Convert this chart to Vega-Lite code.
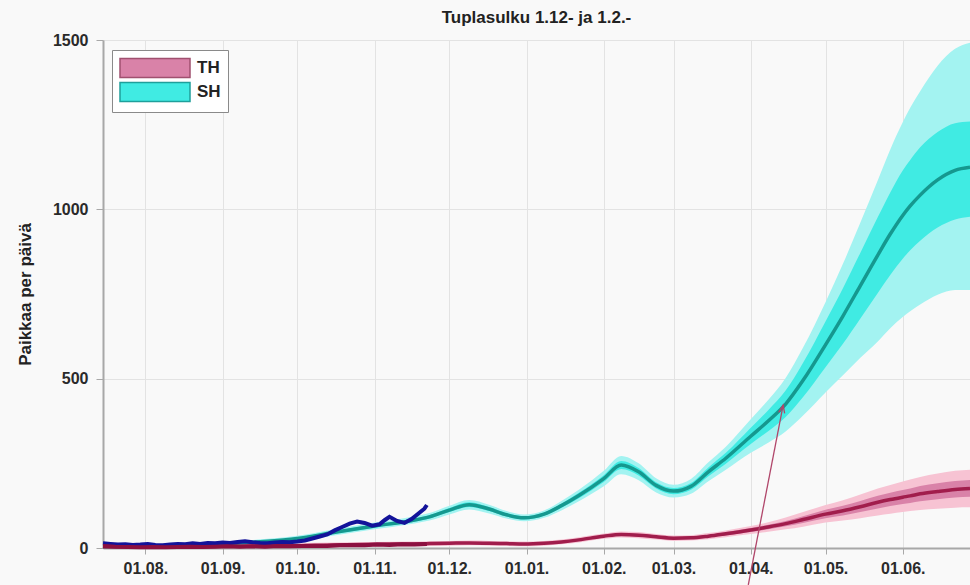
{
  "$schema": "https://vega.github.io/schema/vega-lite/v6.json",
  "width": 867,
  "height": 508,
  "autosize": {"type": "none"},
  "padding": {"left": 103, "top": 40, "right": 0, "bottom": 37},
  "background": "#f9f9f9",
  "title": {"text": "Tuplasulku 1.12- ja 1.2.-", "font": "Liberation Sans", "fontSize": 17, "fontWeight": "bold", "color": "#222", "offset": 5, "anchor": "middle"},
  "config": {
    "view": {"stroke": null},
    "axis": {"labelFont": "Liberation Sans", "labelFontSize": 15, "labelFontWeight": "bold", "labelColor": "#2a2a2a", "gridColor": "#e3e3e3", "domainColor": "#a8a8a8", "tickColor": "#a8a8a8", "titleFont": "Liberation Sans", "titleColor": "#222"}
  },
  "datasets": {
    "model": [
      {"d": "2020-07-15", "sh": 4, "s1l": 2, "s1h": 6, "s2l": 0, "s2h": 9, "th": 4, "t1l": 1, "t1h": 7, "t2l": 0, "t2h": 11},
      {"d": "2020-08-01", "sh": 5, "s1l": 3, "s1h": 7, "s2l": 1, "s2h": 10, "th": 4, "t1l": 1, "t1h": 7, "t2l": 0, "t2h": 11},
      {"d": "2020-08-15", "sh": 7, "s1l": 5, "s1h": 9, "s2l": 2, "s2h": 12, "th": 4, "t1l": 1, "t1h": 7, "t2l": 0, "t2h": 11},
      {"d": "2020-09-01", "sh": 12, "s1l": 9, "s1h": 15, "s2l": 6, "s2h": 18, "th": 5, "t1l": 2, "t1h": 8, "t2l": 0, "t2h": 12},
      {"d": "2020-09-15", "sh": 18, "s1l": 15, "s1h": 21, "s2l": 11, "s2h": 25, "th": 6, "t1l": 3, "t1h": 9, "t2l": 0, "t2h": 13},
      {"d": "2020-10-01", "sh": 28, "s1l": 24, "s1h": 32, "s2l": 20, "s2h": 36, "th": 7, "t1l": 4, "t1h": 10, "t2l": 1, "t2h": 14},
      {"d": "2020-10-15", "sh": 45, "s1l": 41, "s1h": 49, "s2l": 36, "s2h": 54, "th": 9, "t1l": 6, "t1h": 12, "t2l": 2, "t2h": 16},
      {"d": "2020-11-01", "sh": 65, "s1l": 60, "s1h": 70, "s2l": 55, "s2h": 75, "th": 11, "t1l": 8, "t1h": 14, "t2l": 4, "t2h": 18},
      {"d": "2020-11-15", "sh": 80, "s1l": 75, "s1h": 85, "s2l": 70, "s2h": 91, "th": 12, "t1l": 9, "t1h": 15, "t2l": 5, "t2h": 19},
      {"d": "2020-11-23", "sh": 92, "s1l": 87, "s1h": 97, "s2l": 81, "s2h": 103, "th": 13, "t1l": 10, "t1h": 16, "t2l": 6, "t2h": 20},
      {"d": "2020-12-01", "sh": 112, "s1l": 106, "s1h": 118, "s2l": 99, "s2h": 125, "th": 14, "t1l": 11, "t1h": 17, "t2l": 7, "t2h": 21},
      {"d": "2020-12-09", "sh": 128, "s1l": 121, "s1h": 135, "s2l": 114, "s2h": 142, "th": 15, "t1l": 12, "t1h": 18, "t2l": 8, "t2h": 22},
      {"d": "2020-12-17", "sh": 115, "s1l": 109, "s1h": 121, "s2l": 102, "s2h": 128, "th": 14, "t1l": 11, "t1h": 17, "t2l": 7, "t2h": 21},
      {"d": "2020-12-24", "sh": 98, "s1l": 93, "s1h": 103, "s2l": 87, "s2h": 109, "th": 13, "t1l": 10, "t1h": 16, "t2l": 6, "t2h": 20},
      {"d": "2020-12-31", "sh": 89, "s1l": 84, "s1h": 94, "s2l": 79, "s2h": 99, "th": 12, "t1l": 9, "t1h": 15, "t2l": 5, "t2h": 19},
      {"d": "2021-01-08", "sh": 100, "s1l": 95, "s1h": 105, "s2l": 89, "s2h": 111, "th": 14, "t1l": 11, "t1h": 17, "t2l": 7, "t2h": 21},
      {"d": "2021-01-15", "sh": 125, "s1l": 119, "s1h": 131, "s2l": 111, "s2h": 139, "th": 18, "t1l": 15, "t1h": 21, "t2l": 11, "t2h": 25},
      {"d": "2021-01-22", "sh": 155, "s1l": 147, "s1h": 163, "s2l": 138, "s2h": 172, "th": 24, "t1l": 21, "t1h": 27, "t2l": 16, "t2h": 32},
      {"d": "2021-02-01", "sh": 205, "s1l": 195, "s1h": 215, "s2l": 182, "s2h": 228, "th": 35, "t1l": 31, "t1h": 39, "t2l": 27, "t2h": 43},
      {"d": "2021-02-08", "sh": 245, "s1l": 233, "s1h": 257, "s2l": 218, "s2h": 272, "th": 40, "t1l": 36, "t1h": 44, "t2l": 31, "t2h": 49},
      {"d": "2021-02-15", "sh": 225, "s1l": 214, "s1h": 236, "s2l": 200, "s2h": 250, "th": 38, "t1l": 34, "t1h": 42, "t2l": 29, "t2h": 47},
      {"d": "2021-02-22", "sh": 185, "s1l": 176, "s1h": 194, "s2l": 164, "s2h": 206, "th": 33, "t1l": 29, "t1h": 37, "t2l": 25, "t2h": 41},
      {"d": "2021-03-01", "sh": 168, "s1l": 159, "s1h": 177, "s2l": 149, "s2h": 187, "th": 29, "t1l": 25, "t1h": 33, "t2l": 21, "t2h": 37},
      {"d": "2021-03-08", "sh": 182, "s1l": 172, "s1h": 192, "s2l": 160, "s2h": 204, "th": 30, "t1l": 26, "t1h": 34, "t2l": 22, "t2h": 38},
      {"d": "2021-03-15", "sh": 225, "s1l": 212, "s1h": 238, "s2l": 197, "s2h": 253, "th": 35, "t1l": 31, "t1h": 39, "t2l": 26, "t2h": 44},
      {"d": "2021-03-22", "sh": 265, "s1l": 249, "s1h": 281, "s2l": 231, "s2h": 299, "th": 42, "t1l": 37, "t1h": 47, "t2l": 32, "t2h": 52},
      {"d": "2021-04-01", "sh": 330, "s1l": 307, "s1h": 355, "s2l": 281, "s2h": 380, "th": 53, "t1l": 47, "t1h": 59, "t2l": 41, "t2h": 65},
      {"d": "2021-04-08", "sh": 375, "s1l": 345, "s1h": 407, "s2l": 311, "s2h": 437, "th": 62, "t1l": 55, "t1h": 69, "t2l": 48, "t2h": 76},
      {"d": "2021-04-15", "sh": 425, "s1l": 387, "s1h": 465, "s2l": 344, "s2h": 502, "th": 72, "t1l": 64, "t1h": 80, "t2l": 55, "t2h": 90},
      {"d": "2021-04-22", "sh": 495, "s1l": 446, "s1h": 547, "s2l": 391, "s2h": 592, "th": 84, "t1l": 74, "t1h": 94, "t2l": 63, "t2h": 106},
      {"d": "2021-05-01", "sh": 600, "s1l": 534, "s1h": 669, "s2l": 459, "s2h": 726, "th": 100, "t1l": 88, "t1h": 113, "t2l": 75, "t2h": 127},
      {"d": "2021-05-08", "sh": 685, "s1l": 603, "s1h": 767, "s2l": 510, "s2h": 839, "th": 110, "t1l": 96, "t1h": 125, "t2l": 81, "t2h": 141},
      {"d": "2021-05-15", "sh": 775, "s1l": 678, "s1h": 872, "s2l": 562, "s2h": 961, "th": 122, "t1l": 106, "t1h": 139, "t2l": 88, "t2h": 158},
      {"d": "2021-05-22", "sh": 865, "s1l": 753, "s1h": 977, "s2l": 610, "s2h": 1086, "th": 135, "t1l": 117, "t1h": 154, "t2l": 96, "t2h": 176},
      {"d": "2021-05-27", "sh": 927, "s1l": 806, "s1h": 1050, "s2l": 649, "s2h": 1177, "th": 143, "t1l": 124, "t1h": 163, "t2l": 101, "t2h": 186},
      {"d": "2021-06-01", "sh": 982, "s1l": 854, "s1h": 1115, "s2l": 682, "s2h": 1257, "th": 150, "t1l": 130, "t1h": 171, "t2l": 106, "t2h": 196},
      {"d": "2021-06-04", "sh": 1010, "s1l": 879, "s1h": 1146, "s2l": 699, "s2h": 1300, "th": 154, "t1l": 133, "t1h": 176, "t2l": 109, "t2h": 202},
      {"d": "2021-06-08", "sh": 1042, "s1l": 907, "s1h": 1183, "s2l": 719, "s2h": 1349, "th": 160, "t1l": 138, "t1h": 183, "t2l": 112, "t2h": 210},
      {"d": "2021-06-15", "sh": 1087, "s1l": 946, "s1h": 1228, "s2l": 748, "s2h": 1424, "th": 167, "t1l": 144, "t1h": 191, "t2l": 116, "t2h": 220},
      {"d": "2021-06-22", "sh": 1115, "s1l": 970, "s1h": 1254, "s2l": 762, "s2h": 1474, "th": 173, "t1l": 149, "t1h": 198, "t2l": 119, "t2h": 228},
      {"d": "2021-06-28", "sh": 1124, "s1l": 978, "s1h": 1259, "s2l": 762, "s2h": 1492, "th": 176, "t1l": 151, "t1h": 201, "t2l": 120, "t2h": 231}
    ],
    "obs_sh": [
      {"d": "2020-07-15", "v": 14}, {"d": "2020-07-18", "v": 12}, {"d": "2020-07-21", "v": 10}, {"d": "2020-07-24", "v": 11},
      {"d": "2020-07-27", "v": 9}, {"d": "2020-07-30", "v": 10}, {"d": "2020-08-02", "v": 12}, {"d": "2020-08-05", "v": 9},
      {"d": "2020-08-08", "v": 8}, {"d": "2020-08-11", "v": 10}, {"d": "2020-08-14", "v": 12}, {"d": "2020-08-17", "v": 11},
      {"d": "2020-08-20", "v": 14}, {"d": "2020-08-23", "v": 12}, {"d": "2020-08-26", "v": 15}, {"d": "2020-08-29", "v": 14},
      {"d": "2020-09-01", "v": 16}, {"d": "2020-09-04", "v": 15}, {"d": "2020-09-07", "v": 18}, {"d": "2020-09-10", "v": 20},
      {"d": "2020-09-13", "v": 17}, {"d": "2020-09-16", "v": 15}, {"d": "2020-09-19", "v": 14}, {"d": "2020-09-22", "v": 16},
      {"d": "2020-09-25", "v": 18}, {"d": "2020-09-28", "v": 17}, {"d": "2020-10-01", "v": 19}, {"d": "2020-10-04", "v": 22},
      {"d": "2020-10-07", "v": 28}, {"d": "2020-10-10", "v": 34}, {"d": "2020-10-13", "v": 40}, {"d": "2020-10-16", "v": 52},
      {"d": "2020-10-19", "v": 62}, {"d": "2020-10-22", "v": 72}, {"d": "2020-10-25", "v": 78}, {"d": "2020-10-28", "v": 74},
      {"d": "2020-10-31", "v": 66}, {"d": "2020-11-03", "v": 70}, {"d": "2020-11-05", "v": 82}, {"d": "2020-11-07", "v": 92},
      {"d": "2020-11-10", "v": 80}, {"d": "2020-11-13", "v": 74}, {"d": "2020-11-16", "v": 86}, {"d": "2020-11-19", "v": 104},
      {"d": "2020-11-21", "v": 116}, {"d": "2020-11-22", "v": 127}
    ],
    "obs_th": [
      {"d": "2020-07-15", "v": 6}, {"d": "2020-07-20", "v": 4}, {"d": "2020-07-25", "v": 3}, {"d": "2020-07-30", "v": 2},
      {"d": "2020-08-04", "v": 3}, {"d": "2020-08-09", "v": 2}, {"d": "2020-08-14", "v": 3}, {"d": "2020-08-19", "v": 4},
      {"d": "2020-08-24", "v": 3}, {"d": "2020-08-29", "v": 4}, {"d": "2020-09-03", "v": 5}, {"d": "2020-09-08", "v": 4},
      {"d": "2020-09-13", "v": 5}, {"d": "2020-09-18", "v": 4}, {"d": "2020-09-23", "v": 6}, {"d": "2020-09-28", "v": 5},
      {"d": "2020-10-03", "v": 6}, {"d": "2020-10-08", "v": 7}, {"d": "2020-10-13", "v": 6}, {"d": "2020-10-18", "v": 8},
      {"d": "2020-10-23", "v": 9}, {"d": "2020-10-28", "v": 8}, {"d": "2020-11-02", "v": 10}, {"d": "2020-11-07", "v": 9},
      {"d": "2020-11-12", "v": 11}, {"d": "2020-11-17", "v": 10}, {"d": "2020-11-22", "v": 12}
    ],
    "arrow": [
      {"d0": "2021-03-31", "v0": -109, "d1": "2021-04-14", "v1": 422}
    ]
  },
  "layer": [
    {
      "data": {"name": "model"},
      "mark": {"type": "area", "interpolate": "monotone", "color": "#a3f3f1"},
      "encoding": {
        "x": {"field": "d", "type": "temporal", "scale": {"domain": ["2020-07-15", "2021-06-28"]},
              "axis": {"title": null, "format": "%d.%m.", "tickCount": {"interval": "month", "step": 1}, "labelPadding": 6, "tickSize": 6, "labelFontSize": 16, "labelOverlap": false, "grid": true, "domainWidth": 2}},
        "y": {"field": "s2l", "type": "quantitative", "scale": {"domain": [0, 1500], "nice": false},
              "axis": {"title": "Paikkaa per päivä", "titleFontSize": 17, "titleFontWeight": "bold", "titlePadding": 18, "values": [0, 500, 1000, 1500], "format": "d", "labelFontSize": 16, "tickSize": 7, "labelPadding": 8, "domainWidth": 2, "grid": true}},
        "y2": {"field": "s2h"}
      }
    },
    {
      "data": {"name": "model"},
      "mark": {"type": "area", "interpolate": "monotone", "opacity": 1},
      "encoding": {
        "x": {"field": "d", "type": "temporal"},
        "y": {"field": "s1l", "type": "quantitative"},
        "y2": {"field": "s1h"},
        "color": {"datum": "SH", "type": "nominal",
                  "scale": {"domain": ["TH", "SH"], "range": ["#d982a8", "#40ebe3"]},
                  "legend": {"title": null, "orient": "none", "legendX": 9, "legendY": 10,
                             "symbolType": "M-1,-0.95H6V0.95H-1Z", "symbolSize": 400, "symbolOpacity": 1,
                             "labelFont": "Liberation Sans", "labelFontSize": 17, "labelFontWeight": "bold", "labelColor": "#222", "labelOffset": 56,
                             "strokeColor": "#8a8a8a", "fillColor": "#ffffff", "padding": 7, "rowPadding": -2, "symbolStrokeWidth": 1.5,
                             "encode": {"symbols": {"update": {"stroke": {"signal": "datum.value === 'TH' ? '#a0506f' : '#1f9f9b'"}, "strokeWidth": {"value": 1.5}}}}}}
      }
    },
    {
      "data": {"name": "model"},
      "mark": {"type": "area", "interpolate": "monotone", "color": "#f7c3d3"},
      "encoding": {
        "x": {"field": "d", "type": "temporal"},
        "y": {"field": "t2l", "type": "quantitative"},
        "y2": {"field": "t2h"}
      }
    },
    {
      "data": {"name": "model"},
      "mark": {"type": "area", "interpolate": "monotone"},
      "encoding": {
        "x": {"field": "d", "type": "temporal"},
        "y": {"field": "t1l", "type": "quantitative"},
        "y2": {"field": "t1h"},
        "color": {"datum": "TH", "type": "nominal"}
      }
    },
    {
      "data": {"name": "model"},
      "mark": {"type": "line", "interpolate": "monotone", "color": "#15988f", "strokeWidth": 3.5},
      "encoding": {
        "x": {"field": "d", "type": "temporal"},
        "y": {"field": "sh", "type": "quantitative"}
      }
    },
    {
      "data": {"name": "model"},
      "mark": {"type": "line", "interpolate": "monotone", "color": "#a11d4c", "strokeWidth": 3.5},
      "encoding": {
        "x": {"field": "d", "type": "temporal"},
        "y": {"field": "th", "type": "quantitative"}
      }
    },
    {
      "data": {"name": "obs_sh"},
      "mark": {"type": "line", "color": "#13139a", "strokeWidth": 4},
      "encoding": {
        "x": {"field": "d", "type": "temporal"},
        "y": {"field": "v", "type": "quantitative"}
      }
    },
    {
      "data": {"name": "obs_th"},
      "mark": {"type": "line", "color": "#8c1040", "strokeWidth": 4},
      "encoding": {
        "x": {"field": "d", "type": "temporal"},
        "y": {"field": "v", "type": "quantitative"}
      }
    },
    {
      "data": {"name": "arrow"},
      "mark": {"type": "rule", "color": "#b0466a", "strokeWidth": 1.3, "clip": false},
      "encoding": {
        "x": {"field": "d0", "type": "temporal"},
        "x2": {"field": "d1"},
        "y": {"field": "v0", "type": "quantitative"},
        "y2": {"field": "v1"}
      }
    },
    {
      "data": {"name": "arrow"},
      "mark": {"type": "point", "shape": "M-0.5,1.3L0,0L0.5,1.3", "filled": false, "color": "#b0466a", "strokeWidth": 1.3, "size": 150, "angle": 11, "opacity": 1},
      "encoding": {
        "x": {"field": "d1", "type": "temporal"},
        "y": {"field": "v1", "type": "quantitative"}
      }
    }
  ]
}
